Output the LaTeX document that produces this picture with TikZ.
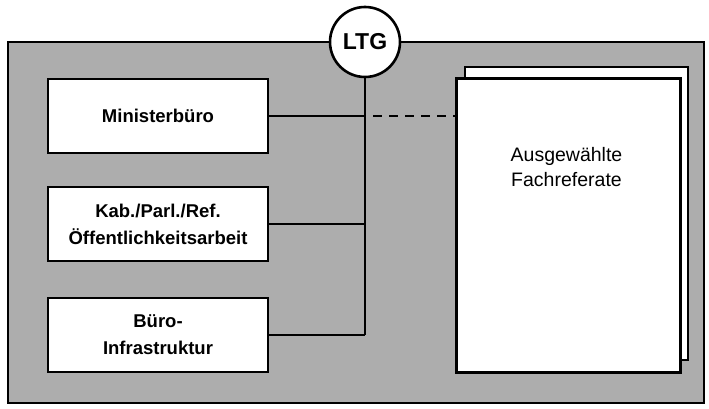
\documentclass[tikz,border=0pt]{standalone}
\usepackage{fontspec}
\setmainfont{Liberation Sans}
\begin{document}
\begin{tikzpicture}[x=1pt,y=-1pt,
  lbox/.style={draw,line width=2.6pt,fill=white,minimum width=220pt,minimum height=74pt,inner sep=0pt,font=\bfseries\fontsize{18.5}{27}\selectfont,align=center},
  conn/.style={line width=2.3pt},
  page/.style={draw,line width=2.6pt,fill=white}]
\useasboundingbox (0,0) rectangle (709,409);
\fill[white] (0,0) rectangle (709,409);
\draw[line width=2.6pt,fill=black!32] (8,42) rectangle (704,403);
\node[lbox] (mb) at (158,116) {Ministerbüro};
\node[lbox] (kab) at (158,224) {Kab./Parl./Ref.\\Öffentlichkeitsarbeit};
\node[lbox] (bi) at (158,335) {Büro-\\Infrastruktur};
\draw[page] (465,67) rectangle (688,360);
\node[page,minimum width=224pt,minimum height=294pt,anchor=north west,inner sep=0pt] (ff) at (455,77) {};
\node[font=\fontsize{19.5}{25}\selectfont,align=center,inner sep=0pt] (fftext) at (566.5,167) {Ausgewählte\\Fachreferate};
\node[draw,circle,line width=2.6pt,fill=white,minimum size=70pt,inner sep=0pt,font=\bfseries\fontsize{23}{26}\selectfont] (ltg) at (365,42) {LTG};
\coordinate (bus) at (365,335);
\draw[conn] (ltg.south) -- (bus);
\draw[conn] (mb.east) -- (mb.east -| ltg.south);
\draw[conn] (kab.east) -- (kab.east -| ltg.south);
\draw[conn] (bi.east) -- (bus);
\draw[conn,dash pattern=on 9pt off 7pt] ([xshift=8pt]mb.east -| ltg.south) -- (ff.west |- mb.east);
\end{tikzpicture}
\end{document}
